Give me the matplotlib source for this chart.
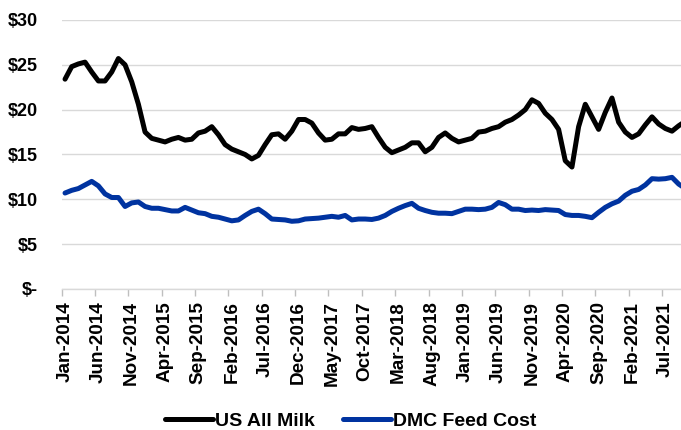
import matplotlib
matplotlib.use("Agg")
import matplotlib.pyplot as plt
from matplotlib.ticker import FixedLocator, FuncFormatter
import pandas as pd

# monthly values, Jan-2014 .. Oct-2021
milk = [
    23.4, 24.8, 25.1, 25.3, 24.2, 23.2, 23.2, 24.2, 25.7, 25.0, 23.1, 20.6,
    17.5, 16.8, 16.6, 16.4, 16.7, 16.9, 16.6, 16.7, 17.4, 17.6, 18.1, 17.2,
    16.1, 15.6, 15.3, 15.0, 14.5, 14.9, 16.1, 17.2, 17.3, 16.7, 17.6, 18.9,
    18.9, 18.5, 17.4, 16.6, 16.7, 17.3, 17.3, 18.0, 17.8, 17.9, 18.1, 16.9,
    15.8, 15.2, 15.5, 15.8, 16.3, 16.3, 15.3, 15.8, 16.9, 17.4, 16.8, 16.4,
    16.6, 16.8, 17.5, 17.6, 17.9, 18.1, 18.6, 18.9, 19.4, 20.0, 21.1, 20.7,
    19.6, 18.9, 17.8, 14.3, 13.6, 18.1, 20.6, 19.2, 17.8, 19.7, 21.3, 18.6,
    17.5, 16.9, 17.3, 18.3, 19.2, 18.4, 17.9, 17.6, 18.2, 18.7,
]
feed = [
    10.7, 11.0, 11.2, 11.6, 12.0, 11.5, 10.6, 10.2, 10.2, 9.2, 9.6, 9.7,
    9.2, 9.0, 9.0, 8.85, 8.7, 8.7, 9.1, 8.8, 8.5, 8.4, 8.1, 8.0,
    7.8, 7.6, 7.7, 8.2, 8.65, 8.9, 8.4, 7.8, 7.75, 7.7, 7.55, 7.6,
    7.8, 7.85, 7.9, 8.0, 8.1, 8.0, 8.2, 7.7, 7.8, 7.8, 7.75, 7.9,
    8.2, 8.65, 9.0, 9.3, 9.55, 9.0, 8.75, 8.55, 8.45, 8.45, 8.4, 8.65,
    8.9, 8.9, 8.85, 8.9, 9.1, 9.65, 9.4, 8.9, 8.9, 8.75, 8.8, 8.75,
    8.85, 8.8, 8.75, 8.3, 8.2, 8.2, 8.1, 7.95, 8.55, 9.1, 9.5, 9.8,
    10.45, 10.9, 11.1, 11.6, 12.3, 12.25, 12.3, 12.45, 11.7, 11.2,
]
months = pd.date_range("2014-01-01", periods=len(milk), freq="MS").strftime("%b-%Y").tolist()
y_ticks = [0, 5, 10, 15, 20, 25, 30]

plt.rcParams["font.family"] = ["Liberation Sans", "DejaVu Sans"]
plt.rcParams["font.weight"] = "bold"

fig = plt.figure(figsize=(6.81, 4.30), dpi=100)
ax = fig.add_axes([0.0906, 0.328, 0.9094, 0.6255])

x = list(range(len(milk)))
ax.plot(x, milk, color="black", lw=3.6, label="US All Milk", solid_capstyle="round", zorder=3)
ax.plot(x, feed, color="#0033A0", lw=3.6, label="DMC Feed Cost", solid_capstyle="round", zorder=3)

ax.set_ylim(0, 30)
ax.set_xlim(-0.5, 92.35)
ax.yaxis.set_major_locator(FixedLocator(y_ticks))
ax.yaxis.set_major_formatter(FuncFormatter(lambda v, p: "$-" if v == 0 else f"${v:.0f}"))
ax.grid(axis="y", color="#D9D9D9", lw=1.0, zorder=0)

lab_pos = x[::5]
ax.set_xticks(lab_pos)
ax.set_xticklabels([months[i] for i in lab_pos], rotation=90)
ax.set_xticks([i - 0.5 for i in lab_pos], minor=True)
ax.tick_params(axis="x", which="major", length=0, pad=9, labelsize=13.6)
ax.tick_params(axis="x", which="minor", length=5, color="#BFBFBF", width=1)
ax.tick_params(axis="y", length=0, pad=17, labelsize=13)

for s in ["top", "right", "left"]:
    ax.spines[s].set_visible(False)
ax.spines["bottom"].set_color("#D9D9D9")
ax.spines["bottom"].set_linewidth(1.0)

fig.legend(loc="center", bbox_to_anchor=(0.515, 0.021), ncol=2, frameon=False,
           handlelength=2.45, handletextpad=0.1, columnspacing=1.5,
           prop={"weight": "bold", "size": 14})

plt.savefig("out.png", dpi=100)
plt.close(fig)
